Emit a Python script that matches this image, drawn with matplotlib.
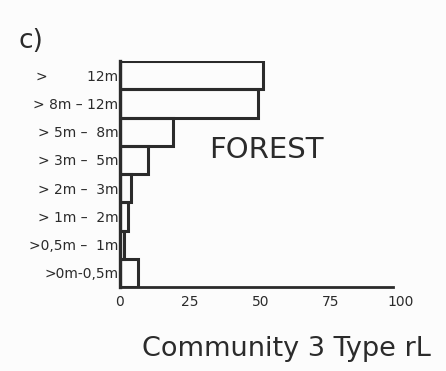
import matplotlib
matplotlib.use("Agg")
import matplotlib.pyplot as plt

categories = ["> 12m", "> 8m – 12m", "> 5m – 8m", "> 3m – 5m",
              "> 2m – 3m", "> 1m – 2m", ">0,5m – 1m", ">0m-0,5m"]
tick_text = [">         12m", "> 8m – 12m", "> 5m –  8m", "> 3m –  5m",
             "> 2m –  3m", "> 1m –  2m", ">0,5m –  1m", ">0m-0,5m"]
values = [51, 49, 19, 10, 4, 3, 1.5, 6.5]
xticks = [0, 25, 50, 75, 100]

ink = "#2b2b2b"
W, H = 446, 371
fig = plt.figure(figsize=(W / 100, H / 100), dpi=100)
fig.patch.set_facecolor("#fcfcfc")

x0, x1 = 120, 401
y0, y1 = 61, 287
ax = fig.add_axes([x0 / W, 1 - y1 / H, (x1 - x0) / W, (y1 - y0) / H])
ax.set_facecolor("none")

n = len(values)
ypos = [n - 1 - i + 0.5 for i in range(n)]
ax.barh(ypos, values, height=1.0, left=0, facecolor="none",
        edgecolor=ink, linewidth=2.2)

ax.set_xlim(0, 100)
ax.set_ylim(0, n)
ax.set_yticks(ypos)
ax.set_yticklabels(tick_text, fontsize=10, color=ink)
ax.set_xticks(xticks)
ax.set_xticklabels([str(t) for t in xticks], fontsize=10, color=ink)
ax.tick_params(length=0, pad=6)
ax.tick_params(axis="y", pad=1)
for s in ["top", "right"]:
    ax.spines[s].set_visible(False)
ax.spines["left"].set_linewidth(2.4)
ax.spines["left"].set_color(ink)
ax.spines["bottom"].set_linewidth(2.0)
ax.spines["bottom"].set_color(ink)
ax.spines["bottom"].set_bounds(0, 97)

fig.text(18 / W, 1 - 48 / H, "c)", fontsize=19, color=ink, ha="left", va="baseline")
fig.text(266 / W, 1 - 158 / H, "FOREST", fontsize=21, color=ink,
         ha="center", va="baseline")
fig.text(286 / W, 1 - 356 / H, "Community 3 Type rL", fontsize=19.5, color=ink,
         ha="center", va="baseline")

fig.savefig("out.png", dpi=100, facecolor=fig.get_facecolor())
